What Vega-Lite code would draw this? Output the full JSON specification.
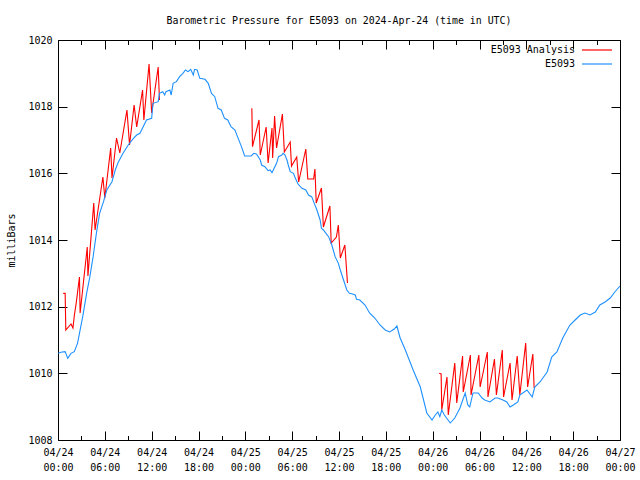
{
  "$schema": "https://vega.github.io/schema/vega-lite/v6.json",
  "width": 562,
  "height": 400,
  "autosize": "none",
  "padding": {"left": 58, "top": 40, "right": 20, "bottom": 40},
  "background": "white",
  "title": {"text": "Barometric Pressure for E5093 on 2024-Apr-24 (time in UTC)", "anchor": "middle", "baseline": "alphabetic", "offset": 16, "dy": 16, "font": "DejaVu Sans Mono", "fontSize": 9.9, "fontWeight": "normal", "color": "black"},
  "datasets": {
    "analysis": [
      {"g": 1, "t": "2024-04-24T00:40:00Z", "v": 1012.40},
      {"g": 1, "t": "2024-04-24T00:55:00Z", "v": 1012.40},
      {"g": 1, "t": "2024-04-24T01:00:00Z", "v": 1011.30},
      {"g": 1, "t": "2024-04-24T01:40:00Z", "v": 1011.48},
      {"g": 1, "t": "2024-04-24T01:55:00Z", "v": 1011.36},
      {"g": 1, "t": "2024-04-24T02:05:00Z", "v": 1011.72},
      {"g": 1, "t": "2024-04-24T02:20:00Z", "v": 1012.11},
      {"g": 1, "t": "2024-04-24T02:45:00Z", "v": 1012.89},
      {"g": 1, "t": "2024-04-24T02:50:00Z", "v": 1011.81},
      {"g": 1, "t": "2024-04-24T03:45:00Z", "v": 1013.79},
      {"g": 1, "t": "2024-04-24T03:50:00Z", "v": 1012.92},
      {"g": 1, "t": "2024-04-24T04:35:00Z", "v": 1015.11},
      {"g": 1, "t": "2024-04-24T04:45:00Z", "v": 1014.30},
      {"g": 1, "t": "2024-04-24T05:45:00Z", "v": 1015.89},
      {"g": 1, "t": "2024-04-24T06:00:00Z", "v": 1015.26},
      {"g": 1, "t": "2024-04-24T06:45:00Z", "v": 1016.76},
      {"g": 1, "t": "2024-04-24T06:55:00Z", "v": 1015.86},
      {"g": 1, "t": "2024-04-24T07:30:00Z", "v": 1017.06},
      {"g": 1, "t": "2024-04-24T07:55:00Z", "v": 1016.61},
      {"g": 1, "t": "2024-04-24T08:50:00Z", "v": 1017.90},
      {"g": 1, "t": "2024-04-24T09:10:00Z", "v": 1016.85},
      {"g": 1, "t": "2024-04-24T09:45:00Z", "v": 1018.05},
      {"g": 1, "t": "2024-04-24T10:05:00Z", "v": 1017.39},
      {"g": 1, "t": "2024-04-24T10:50:00Z", "v": 1018.50},
      {"g": 1, "t": "2024-04-24T11:00:00Z", "v": 1017.60},
      {"g": 1, "t": "2024-04-24T11:40:00Z", "v": 1019.28},
      {"g": 1, "t": "2024-04-24T12:00:00Z", "v": 1017.81},
      {"g": 1, "t": "2024-04-24T12:50:00Z", "v": 1019.19},
      {"g": 1, "t": "2024-04-24T13:00:00Z", "v": 1018.20},
      {"g": 2, "t": "2024-04-25T00:50:00Z", "v": 1017.95},
      {"g": 2, "t": "2024-04-25T00:55:00Z", "v": 1016.80},
      {"g": 2, "t": "2024-04-25T01:45:00Z", "v": 1017.60},
      {"g": 2, "t": "2024-04-25T01:55:00Z", "v": 1016.55},
      {"g": 2, "t": "2024-04-25T02:40:00Z", "v": 1017.39},
      {"g": 2, "t": "2024-04-25T02:55:00Z", "v": 1016.31},
      {"g": 2, "t": "2024-04-25T03:25:00Z", "v": 1017.36},
      {"g": 2, "t": "2024-04-25T03:30:00Z", "v": 1016.46},
      {"g": 2, "t": "2024-04-25T03:45:00Z", "v": 1017.72},
      {"g": 2, "t": "2024-04-25T04:00:00Z", "v": 1016.76},
      {"g": 2, "t": "2024-04-25T04:45:00Z", "v": 1017.78},
      {"g": 2, "t": "2024-04-25T05:00:00Z", "v": 1016.64},
      {"g": 2, "t": "2024-04-25T05:45:00Z", "v": 1016.94},
      {"g": 2, "t": "2024-04-25T05:55:00Z", "v": 1016.22},
      {"g": 2, "t": "2024-04-25T06:35:00Z", "v": 1016.49},
      {"g": 2, "t": "2024-04-25T06:50:00Z", "v": 1015.74},
      {"g": 2, "t": "2024-04-25T07:45:00Z", "v": 1016.73},
      {"g": 2, "t": "2024-04-25T08:00:00Z", "v": 1015.83},
      {"g": 2, "t": "2024-04-25T08:45:00Z", "v": 1015.83},
      {"g": 2, "t": "2024-04-25T08:55:00Z", "v": 1016.13},
      {"g": 2, "t": "2024-04-25T09:05:00Z", "v": 1015.11},
      {"g": 2, "t": "2024-04-25T09:45:00Z", "v": 1015.56},
      {"g": 2, "t": "2024-04-25T10:00:00Z", "v": 1014.39},
      {"g": 2, "t": "2024-04-25T10:50:00Z", "v": 1015.02},
      {"g": 2, "t": "2024-04-25T11:00:00Z", "v": 1013.91},
      {"g": 2, "t": "2024-04-25T11:40:00Z", "v": 1014.09},
      {"g": 2, "t": "2024-04-25T11:55:00Z", "v": 1014.45},
      {"g": 2, "t": "2024-04-25T12:10:00Z", "v": 1013.46},
      {"g": 2, "t": "2024-04-25T12:45:00Z", "v": 1013.85},
      {"g": 2, "t": "2024-04-25T13:05:00Z", "v": 1012.71},
      {"g": 3, "t": "2024-04-26T00:50:00Z", "v": 1010.00},
      {"g": 3, "t": "2024-04-26T01:05:00Z", "v": 1009.98},
      {"g": 3, "t": "2024-04-26T01:10:00Z", "v": 1008.90},
      {"g": 3, "t": "2024-04-26T01:50:00Z", "v": 1009.89},
      {"g": 3, "t": "2024-04-26T02:00:00Z", "v": 1008.75},
      {"g": 3, "t": "2024-04-26T02:50:00Z", "v": 1010.31},
      {"g": 3, "t": "2024-04-26T03:05:00Z", "v": 1009.11},
      {"g": 3, "t": "2024-04-26T03:50:00Z", "v": 1010.52},
      {"g": 3, "t": "2024-04-26T03:55:00Z", "v": 1009.44},
      {"g": 3, "t": "2024-04-26T04:50:00Z", "v": 1010.55},
      {"g": 3, "t": "2024-04-26T04:55:00Z", "v": 1009.35},
      {"g": 3, "t": "2024-04-26T05:55:00Z", "v": 1010.55},
      {"g": 3, "t": "2024-04-26T06:05:00Z", "v": 1009.59},
      {"g": 3, "t": "2024-04-26T07:00:00Z", "v": 1010.64},
      {"g": 3, "t": "2024-04-26T07:05:00Z", "v": 1009.29},
      {"g": 3, "t": "2024-04-26T07:55:00Z", "v": 1010.43},
      {"g": 3, "t": "2024-04-26T08:10:00Z", "v": 1009.35},
      {"g": 3, "t": "2024-04-26T08:55:00Z", "v": 1010.70},
      {"g": 3, "t": "2024-04-26T09:05:00Z", "v": 1009.29},
      {"g": 3, "t": "2024-04-26T09:55:00Z", "v": 1010.31},
      {"g": 3, "t": "2024-04-26T10:10:00Z", "v": 1009.20},
      {"g": 3, "t": "2024-04-26T10:50:00Z", "v": 1010.52},
      {"g": 3, "t": "2024-04-26T11:10:00Z", "v": 1009.35},
      {"g": 3, "t": "2024-04-26T11:55:00Z", "v": 1010.91},
      {"g": 3, "t": "2024-04-26T12:10:00Z", "v": 1009.59},
      {"g": 3, "t": "2024-04-26T12:50:00Z", "v": 1010.58},
      {"g": 3, "t": "2024-04-26T13:00:00Z", "v": 1009.56}
    ],
    "obs": [
      {"t": "2024-04-24T00:00:00Z", "v": 1010.60},
      {"t": "2024-04-24T00:30:00Z", "v": 1010.64},
      {"t": "2024-04-24T00:55:00Z", "v": 1010.65},
      {"t": "2024-04-24T01:15:00Z", "v": 1010.45},
      {"t": "2024-04-24T01:40:00Z", "v": 1010.60},
      {"t": "2024-04-24T02:05:00Z", "v": 1010.65},
      {"t": "2024-04-24T02:30:00Z", "v": 1010.90},
      {"t": "2024-04-24T02:45:00Z", "v": 1011.20},
      {"t": "2024-04-24T03:10:00Z", "v": 1011.70},
      {"t": "2024-04-24T03:40:00Z", "v": 1012.40},
      {"t": "2024-04-24T04:05:00Z", "v": 1012.90},
      {"t": "2024-04-24T04:30:00Z", "v": 1013.50},
      {"t": "2024-04-24T04:55:00Z", "v": 1014.20},
      {"t": "2024-04-24T05:20:00Z", "v": 1014.80},
      {"t": "2024-04-24T05:50:00Z", "v": 1015.15},
      {"t": "2024-04-24T06:15:00Z", "v": 1015.50},
      {"t": "2024-04-24T06:55:00Z", "v": 1015.75},
      {"t": "2024-04-24T07:20:00Z", "v": 1016.10},
      {"t": "2024-04-24T07:45:00Z", "v": 1016.35},
      {"t": "2024-04-24T08:20:00Z", "v": 1016.60},
      {"t": "2024-04-24T09:00:00Z", "v": 1016.85},
      {"t": "2024-04-24T09:40:00Z", "v": 1017.05},
      {"t": "2024-04-24T10:05:00Z", "v": 1017.15},
      {"t": "2024-04-24T10:30:00Z", "v": 1017.20},
      {"t": "2024-04-24T10:55:00Z", "v": 1017.40},
      {"t": "2024-04-24T11:20:00Z", "v": 1017.60},
      {"t": "2024-04-24T12:00:00Z", "v": 1017.65},
      {"t": "2024-04-24T12:10:00Z", "v": 1018.10},
      {"t": "2024-04-24T12:50:00Z", "v": 1018.15},
      {"t": "2024-04-24T13:00:00Z", "v": 1018.40},
      {"t": "2024-04-24T13:25:00Z", "v": 1018.45},
      {"t": "2024-04-24T13:40:00Z", "v": 1018.35},
      {"t": "2024-04-24T13:50:00Z", "v": 1018.45},
      {"t": "2024-04-24T14:20:00Z", "v": 1018.50},
      {"t": "2024-04-24T14:30:00Z", "v": 1018.35},
      {"t": "2024-04-24T14:45:00Z", "v": 1018.70},
      {"t": "2024-04-24T15:10:00Z", "v": 1018.75},
      {"t": "2024-04-24T15:35:00Z", "v": 1018.90},
      {"t": "2024-04-24T16:00:00Z", "v": 1019.00},
      {"t": "2024-04-24T16:20:00Z", "v": 1019.10},
      {"t": "2024-04-24T16:40:00Z", "v": 1019.05},
      {"t": "2024-04-24T17:00:00Z", "v": 1019.12},
      {"t": "2024-04-24T17:20:00Z", "v": 1018.95},
      {"t": "2024-04-24T17:30:00Z", "v": 1019.12},
      {"t": "2024-04-24T17:50:00Z", "v": 1019.10},
      {"t": "2024-04-24T18:10:00Z", "v": 1018.85},
      {"t": "2024-04-24T18:50:00Z", "v": 1018.82},
      {"t": "2024-04-24T19:15:00Z", "v": 1018.70},
      {"t": "2024-04-24T19:40:00Z", "v": 1018.40},
      {"t": "2024-04-24T20:05:00Z", "v": 1018.30},
      {"t": "2024-04-24T20:30:00Z", "v": 1017.95},
      {"t": "2024-04-24T20:55:00Z", "v": 1017.90},
      {"t": "2024-04-24T21:20:00Z", "v": 1017.65},
      {"t": "2024-04-24T21:45:00Z", "v": 1017.60},
      {"t": "2024-04-24T22:10:00Z", "v": 1017.40},
      {"t": "2024-04-24T22:40:00Z", "v": 1017.30},
      {"t": "2024-04-24T23:05:00Z", "v": 1017.05},
      {"t": "2024-04-24T23:30:00Z", "v": 1016.80},
      {"t": "2024-04-24T23:55:00Z", "v": 1016.52},
      {"t": "2024-04-25T00:45:00Z", "v": 1016.52},
      {"t": "2024-04-25T01:05:00Z", "v": 1016.60},
      {"t": "2024-04-25T01:25:00Z", "v": 1016.58},
      {"t": "2024-04-25T01:55:00Z", "v": 1016.40},
      {"t": "2024-04-25T02:05:00Z", "v": 1016.25},
      {"t": "2024-04-25T02:30:00Z", "v": 1016.20},
      {"t": "2024-04-25T02:55:00Z", "v": 1016.08},
      {"t": "2024-04-25T03:10:00Z", "v": 1016.10},
      {"t": "2024-04-25T03:25:00Z", "v": 1016.02},
      {"t": "2024-04-25T03:35:00Z", "v": 1016.10},
      {"t": "2024-04-25T04:00:00Z", "v": 1016.30},
      {"t": "2024-04-25T04:15:00Z", "v": 1016.50},
      {"t": "2024-04-25T04:40:00Z", "v": 1016.55},
      {"t": "2024-04-25T04:50:00Z", "v": 1016.60},
      {"t": "2024-04-25T05:05:00Z", "v": 1016.55},
      {"t": "2024-04-25T05:20:00Z", "v": 1016.40},
      {"t": "2024-04-25T05:30:00Z", "v": 1016.25},
      {"t": "2024-04-25T05:45:00Z", "v": 1016.05},
      {"t": "2024-04-25T06:10:00Z", "v": 1016.00},
      {"t": "2024-04-25T06:20:00Z", "v": 1015.90},
      {"t": "2024-04-25T06:45:00Z", "v": 1015.68},
      {"t": "2024-04-25T07:15:00Z", "v": 1015.55},
      {"t": "2024-04-25T07:45:00Z", "v": 1015.50},
      {"t": "2024-04-25T08:05:00Z", "v": 1015.35},
      {"t": "2024-04-25T08:30:00Z", "v": 1015.30},
      {"t": "2024-04-25T08:50:00Z", "v": 1015.10},
      {"t": "2024-04-25T09:10:00Z", "v": 1014.90},
      {"t": "2024-04-25T09:35:00Z", "v": 1014.60},
      {"t": "2024-04-25T09:45:00Z", "v": 1014.35},
      {"t": "2024-04-25T10:00:00Z", "v": 1014.30},
      {"t": "2024-04-25T10:20:00Z", "v": 1014.20},
      {"t": "2024-04-25T10:40:00Z", "v": 1014.10},
      {"t": "2024-04-25T11:05:00Z", "v": 1013.85},
      {"t": "2024-04-25T11:30:00Z", "v": 1013.50},
      {"t": "2024-04-25T11:55:00Z", "v": 1013.30},
      {"t": "2024-04-25T12:10:00Z", "v": 1013.10},
      {"t": "2024-04-25T12:35:00Z", "v": 1012.80},
      {"t": "2024-04-25T13:00:00Z", "v": 1012.50},
      {"t": "2024-04-25T13:20:00Z", "v": 1012.40},
      {"t": "2024-04-25T13:45:00Z", "v": 1012.38},
      {"t": "2024-04-25T14:05:00Z", "v": 1012.35},
      {"t": "2024-04-25T14:15:00Z", "v": 1012.22},
      {"t": "2024-04-25T14:40:00Z", "v": 1012.20},
      {"t": "2024-04-25T15:20:00Z", "v": 1012.05},
      {"t": "2024-04-25T15:55:00Z", "v": 1011.81},
      {"t": "2024-04-25T16:35:00Z", "v": 1011.66},
      {"t": "2024-04-25T17:15:00Z", "v": 1011.45},
      {"t": "2024-04-25T17:55:00Z", "v": 1011.30},
      {"t": "2024-04-25T18:30:00Z", "v": 1011.24},
      {"t": "2024-04-25T19:05:00Z", "v": 1011.33},
      {"t": "2024-04-25T19:25:00Z", "v": 1011.42},
      {"t": "2024-04-25T19:50:00Z", "v": 1011.06},
      {"t": "2024-04-25T20:30:00Z", "v": 1010.70},
      {"t": "2024-04-25T21:30:00Z", "v": 1010.10},
      {"t": "2024-04-25T22:25:00Z", "v": 1009.59},
      {"t": "2024-04-25T23:15:00Z", "v": 1008.81},
      {"t": "2024-04-25T23:55:00Z", "v": 1008.60},
      {"t": "2024-04-26T00:20:00Z", "v": 1008.75},
      {"t": "2024-04-26T00:40:00Z", "v": 1008.84},
      {"t": "2024-04-26T00:55:00Z", "v": 1008.70},
      {"t": "2024-04-26T01:10:00Z", "v": 1008.90},
      {"t": "2024-04-26T01:30:00Z", "v": 1008.75},
      {"t": "2024-04-26T02:15:00Z", "v": 1008.51},
      {"t": "2024-04-26T02:50:00Z", "v": 1008.66},
      {"t": "2024-04-26T03:30:00Z", "v": 1008.96},
      {"t": "2024-04-26T04:10:00Z", "v": 1009.41},
      {"t": "2024-04-26T04:30:00Z", "v": 1009.05},
      {"t": "2024-04-26T04:45:00Z", "v": 1008.99},
      {"t": "2024-04-26T05:10:00Z", "v": 1009.41},
      {"t": "2024-04-26T05:50:00Z", "v": 1009.41},
      {"t": "2024-04-26T06:20:00Z", "v": 1009.26},
      {"t": "2024-04-26T06:40:00Z", "v": 1009.20},
      {"t": "2024-04-26T07:20:00Z", "v": 1009.14},
      {"t": "2024-04-26T08:00:00Z", "v": 1009.26},
      {"t": "2024-04-26T08:20:00Z", "v": 1009.26},
      {"t": "2024-04-26T09:00:00Z", "v": 1009.20},
      {"t": "2024-04-26T09:30:00Z", "v": 1009.14},
      {"t": "2024-04-26T09:55:00Z", "v": 1008.99},
      {"t": "2024-04-26T10:20:00Z", "v": 1009.05},
      {"t": "2024-04-26T10:55:00Z", "v": 1009.14},
      {"t": "2024-04-26T11:10:00Z", "v": 1009.35},
      {"t": "2024-04-26T12:05:00Z", "v": 1009.50},
      {"t": "2024-04-26T12:45:00Z", "v": 1009.29},
      {"t": "2024-04-26T13:05:00Z", "v": 1009.59},
      {"t": "2024-04-26T13:45:00Z", "v": 1009.74},
      {"t": "2024-04-26T14:40:00Z", "v": 1010.04},
      {"t": "2024-04-26T15:15:00Z", "v": 1010.49},
      {"t": "2024-04-26T15:55:00Z", "v": 1010.64},
      {"t": "2024-04-26T16:40:00Z", "v": 1011.06},
      {"t": "2024-04-26T17:35:00Z", "v": 1011.45},
      {"t": "2024-04-26T18:15:00Z", "v": 1011.60},
      {"t": "2024-04-26T18:55:00Z", "v": 1011.75},
      {"t": "2024-04-26T19:30:00Z", "v": 1011.81},
      {"t": "2024-04-26T20:10:00Z", "v": 1011.75},
      {"t": "2024-04-26T20:50:00Z", "v": 1011.84},
      {"t": "2024-04-26T21:25:00Z", "v": 1012.05},
      {"t": "2024-04-26T22:05:00Z", "v": 1012.14},
      {"t": "2024-04-26T22:45:00Z", "v": 1012.26},
      {"t": "2024-04-26T23:20:00Z", "v": 1012.44},
      {"t": "2024-04-27T00:00:00Z", "v": 1012.62}
    ]
  },
  "layer": [
    {
      "data": {"name": "analysis"},
      "transform": [{"calculate": "'E5093 Analysis'", "as": "s"}],
      "mark": {"type": "line", "strokeWidth": 1.1, "clip": true},
      "encoding": {
        "x": {"field": "t", "type": "temporal",
          "scale": {"type": "utc", "domain": ["2024-04-24T00:00:00Z", "2024-04-27T00:00:00Z"]},
          "axis": {"orient": "bottom", "title": null, "tickCount": 24,
            "labelExpr": "utchours(datum.value) % 6 == 0 ? [utcFormat(datum.value, '%m/%d'), utcFormat(datum.value, '%H:%M')] : ''",
            "tickSize": -9,
            "tickDash": {"condition": {"test": "utchours(datum.value) % 6 != 0", "value": [4.5, 20]}, "value": [20, 0]},
            "labelPadding": 16, "labelFlush": false, "labelOverlap": false, "labelLineHeight": 15, "labelBaseline": "top"}},
        "y": {"field": "v", "type": "quantitative",
          "scale": {"domain": [1008, 1020], "nice": false, "zero": false},
          "axis": {"orient": "left", "values": [1008, 1010, 1012, 1014, 1016, 1018, 1020], "format": "d", "tickSize": -9, "labelPadding": 15,
            "labelFlush": false, "labelOverlap": false,
            "title": "milliBars", "titleX": -47, "titleY": 200, "titleAngle": 270, "titleBaseline": "middle", "titleAlign": "center", "titleFontWeight": "normal", "titleFontSize": 10}},
        "detail": {"field": "g", "type": "nominal"},
        "color": {"field": "s", "type": "nominal",
          "scale": {"domain": ["E5093 Analysis"], "range": ["#ff0000"]},
          "legend": {"orient": "none", "legendX": 523, "legendY": -6, "title": null, "symbolType": "stroke", "symbolSize": 900, "symbolStrokeWidth": 1, "symbolStrokeColor": "#ff0000", "labelAlign": "right", "labelOffset": -38, "padding": 0,
            "encode": {"symbols": {"update": {"stroke": {"value": "#ff0000"}, "strokeWidth": {"value": 1.2}}}}}}
      }
    },
    {
      "data": {"name": "obs"},
      "transform": [{"calculate": "'E5093'", "as": "s"}],
      "mark": {"type": "line", "strokeWidth": 1.1, "clip": true},
      "encoding": {
        "x": {"field": "t", "type": "temporal",
          "axis": {"orient": "top", "title": null, "labels": false, "tickCount": 24,
            "tickSize": -9,
            "tickDash": {"condition": {"test": "utchours(datum.value) % 6 != 0", "value": [4.5, 20]}, "value": [20, 0]}}},
        "y": {"field": "v", "type": "quantitative",
          "axis": {"orient": "right", "title": null, "labels": false, "values": [1008, 1010, 1012, 1014, 1016, 1018, 1020], "tickSize": -9}},
        "color": {"field": "s", "type": "nominal",
          "scale": {"domain": ["E5093"], "range": ["#1e90ff"]},
          "legend": {"orient": "none", "legendX": 523, "legendY": 8, "title": null, "symbolType": "stroke", "symbolSize": 900, "symbolStrokeWidth": 1, "symbolStrokeColor": "#1e90ff", "labelAlign": "right", "labelOffset": -38, "padding": 0,
            "encode": {"symbols": {"update": {"stroke": {"value": "#1e90ff"}, "strokeWidth": {"value": 1.2}}}}}}
      }
    }
  ],
  "resolve": {"axis": {"x": "independent", "y": "independent"}, "scale": {"color": "independent"}, "legend": {"color": "independent"}},
  "config": {
    "view": {"stroke": "black", "strokeWidth": 1},
    "axis": {"grid": false, "domain": false, "tickColor": "black", "tickWidth": 1, "labelColor": "black", "labelFont": "DejaVu Sans Mono", "labelFontSize": 10, "titleFont": "DejaVu Sans Mono", "titleColor": "black"},
    "legend": {"labelFont": "DejaVu Sans Mono", "labelFontSize": 10, "labelColor": "black"}
  }
}
